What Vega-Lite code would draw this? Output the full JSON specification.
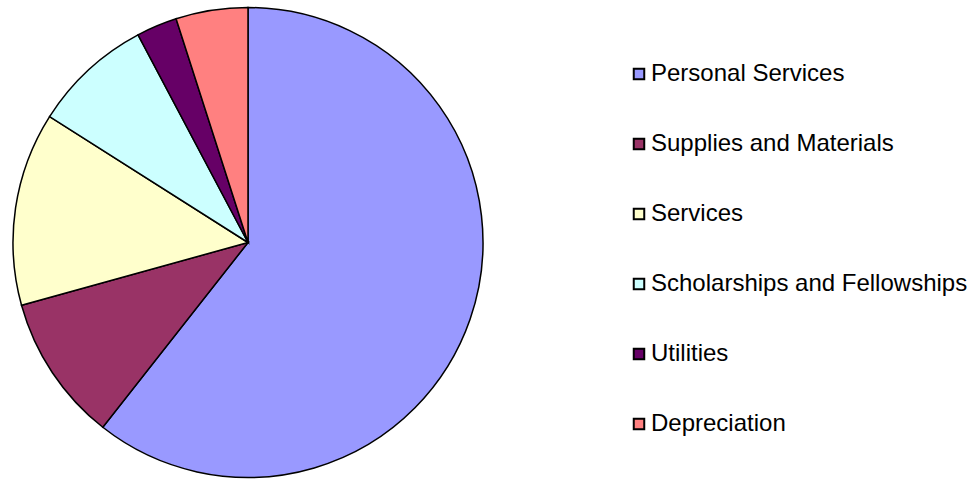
{
  "$schema": "https://vega.github.io/schema/vega-lite/v6.json",
  "autosize": {"type": "pad"},
  "padding": {"left": 0, "top": 0, "right": 0, "bottom": 0},
  "width": 496,
  "height": 485,
  "background": "white",
  "config": {"view": {"stroke": null}, "font": "Liberation Sans"},
  "data": {
    "values": [
      {"category": "Personal Services", "share": 60.6, "order": 1},
      {"category": "Supplies and Materials", "share": 10.1, "order": 2},
      {"category": "Services", "share": 13.3, "order": 3},
      {"category": "Scholarships and Fellowships", "share": 8.25, "order": 4},
      {"category": "Utilities", "share": 2.8, "order": 5},
      {"category": "Depreciation", "share": 4.95, "order": 6}
    ]
  },
  "mark": {"type": "arc", "radius": 235, "stroke": "black", "strokeWidth": 1.5},
  "encoding": {
    "theta": {"field": "share", "type": "quantitative", "stack": true},
    "order": {"field": "order", "type": "quantitative", "sort": "ascending"},
    "color": {
      "field": "category",
      "type": "nominal",
      "sort": null,
      "scale": {
        "domain": ["Personal Services", "Supplies and Materials", "Services", "Scholarships and Fellowships", "Utilities", "Depreciation"],
        "range": ["#9999FF", "#993366", "#FFFFCC", "#CCFFFF", "#660066", "#FF8080"]
      },
      "legend": {
        "title": null,
        "orient": "none",
        "legendX": 627,
        "legendY": 62,
        "padding": 0,
        "symbolType": "square",
        "symbolSize": 110,
        "symbolStrokeColor": "black",
        "symbolStrokeWidth": 2,
        "symbolOpacity": 1,
        "labelFontSize": 24,
        "labelFont": "Liberation Sans",
        "labelColor": "black",
        "labelOffset": 0,
        "labelLimit": 400,
        "rowPadding": 46
      }
    }
  }
}
